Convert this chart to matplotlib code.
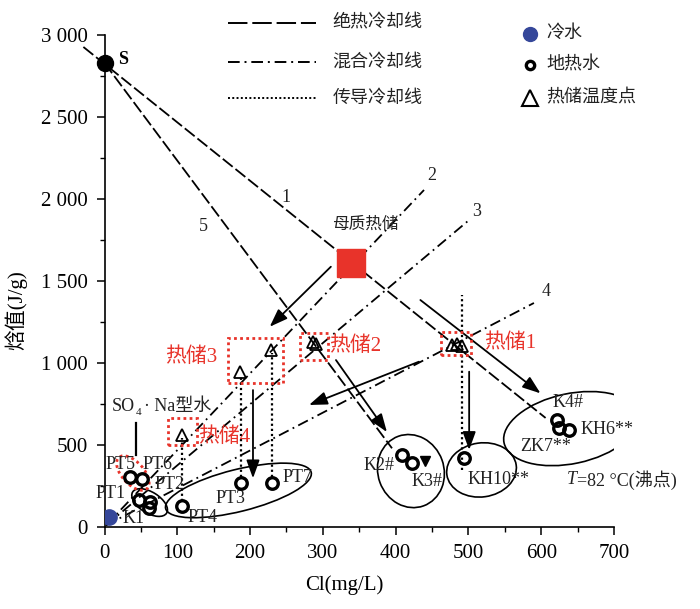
import matplotlib
matplotlib.use('Agg')
import matplotlib.pyplot as plt
from matplotlib.patches import Ellipse, Rectangle
from matplotlib.transforms import ScaledTranslation

FONT = ['Liberation Serif', 'Noto Sans CJK SC']
plt.rcParams['font.family'] = FONT

# ---------------- data ----------------
x_ticks = [0, 100, 200, 300, 400, 500, 600, 700]
y_ticks = [0, 500, 1000, 1500, 2000, 2500, 3000]
y_tick_labels = ['0', '500', '1 000', '1 500', '2 000', '2 500', '3 000']

steam_x, steam_y = [0], [2830]
cold_x, cold_y = [6], [60]
mother_x, mother_y = [338], [1610]

geo_x = [35, 51, 47, 62, 61, 107, 187, 230, 494, 409, 423, 622, 624, 638]
geo_y = [305, 292, 165, 152, 115, 128, 266, 266, 419, 439, 388, 652, 602, 591]

res_x = [106, 186, 229, 286, 291, 477, 484, 491]
res_y = [561, 945, 1079, 1128, 1115, 1108, 1116, 1104]

mark_x, mark_y = [441], [402]

# adiabatic cooling lines (1, 5)
adiab_lines = {'1': ([-29, 606], [2927, 665]), '5': ([0, 395], [2829, 480])}
# mixing cooling lines (2, 3, 4)
mix_lines = {'2': ([2, 439], [10, 2055]), '3': ([2, 501], [10, 1872]), '4': ([2, 590], [10, 1366])}
line_label_pos = {'1': (250, 2012), '2': (449, 2146), '3': (511, 1921), '4': (607, 1433), '5': (136, 1830)}
# conduction cooling (vertical dotted)
cond_x = [106, 187, 230, 491]
cond_top = [540, 917, 1061, 1415]
cond_bot = [160, 306, 306, 348]

# solid arrows (x0, y0, x1, y1)
arrows = [(311, 1587, 227, 1221), (204, 835, 204, 297), (432, 1008, 281, 744),
          (318, 1018, 388, 579), (501, 947, 501, 470), (434, 1384, 599, 815)]

# reservoir boxes (x0, y0, x1, y1)
res_boxes = [(87, 498, 127, 665), (170, 880, 245, 1150), (268, 1018, 307, 1181), (462, 1049, 503, 1191)]
res_labels = [('热储1', 521, 1122), ('热储2', 309, 1104), ('热储3', 83, 1036), ('热储4', 129, 549)]

point_labels = [('PT5', 1, 384, 'left'), ('PT6', 73, 384, 'center'), ('PT1', -13, 207, 'left'),
                ('PT2', 90, 262, 'center'), ('PT4', 134, 55, 'center'), ('PT3', 173, 171, 'center'),
                ('PT7', 265, 299, 'center'), ('K1', 40, 49, 'center'), ('K2#', 377, 378, 'center'),
                ('K3#', 443, 280, 'center'), ('KH10**', 542, 287, 'center'), ('K4#', 637, 762, 'center'),
                ('KH6**', 691, 592, 'center'), ('ZK7**', 606, 488, 'center')]

# ellipses: center x, center y, width px, height px, angle
ellipses = [(62, 149, 40, 21, -32), (184, 223, 150, 42, 14), (421, 341, 66, 74, 20),
            (518, 348, 70, 54, 8), (641, 600, 137, 70, 12)]
red_ellipse = (39, 329, 42, 22, -48)

# ---------------- figure ----------------
fig = plt.figure(figsize=(7.0, 6.09), dpi=100)
ax = fig.add_axes([104.5 / 700, 82 / 609, (614 - 104.5) / 700, (527 - 35) / 609])
ax.set_xlim(0, 700)
ax.set_ylim(0, 3000)
for s in ['top', 'right']:
    ax.spines[s].set_visible(False)
for s in ['left', 'bottom']:
    ax.spines[s].set_linewidth(1.2)
ax.set_xticks(x_ticks)
ax.set_xticklabels([str(v) for v in x_ticks])
ax.set_yticks(y_ticks)
ax.set_yticklabels(y_tick_labels)
ax.set_xticks(range(50, 700, 100), minor=True)
ax.set_yticks(range(250, 3000, 500), minor=True)
ax.tick_params(which='major', direction='out', length=6, width=1.1, labelsize=15, pad=6)
ax.tick_params(which='minor', direction='out', length=3.5, width=1.0)
for lab in ax.get_xticklabels() + ax.get_yticklabels():
    lab.set_family(FONT)

fig.text(344 / 700, 1 - 585 / 609, 'Cl(mg/L)', ha='center', va='center', fontsize=15, family=FONT)
fig.text(16 / 700, 1 - 310 / 609, '焓值(J/g)', ha='center', va='center', rotation=90, fontsize=15, family=FONT)

ADIAB = (7, 2)
MIXD = (6, 2.5, 1, 2.5)
DOT = (1, 1.3)

for k, (xs, ys) in adiab_lines.items():
    ax.plot(xs, ys, color='k', lw=1.3, dashes=ADIAB, clip_on=False, zorder=2)
for k, (xs, ys) in mix_lines.items():
    ax.plot(xs, ys, color='k', lw=1.3, dashes=MIXD, zorder=2)
for k, (lx, ly) in line_label_pos.items():
    ax.text(lx, ly, k, fontsize=13, ha='center', va='center', color='#222')
for x, yt, yb in zip(cond_x, cond_top, cond_bot):
    ax.plot([x, x], [yb, yt], color='k', lw=1.6, dashes=DOT, zorder=2)

for x0, y0, x1, y1 in arrows:
    ax.annotate('', xy=(x1, y1), xytext=(x0, y0),
                arrowprops=dict(arrowstyle='-|>,head_length=0.55,head_width=0.2', color='k',
                                lw=1.3, mutation_scale=20, shrinkA=0, shrinkB=0), zorder=3)

# SO4 marker line
ax.plot([43, 43], [439, 634], color='k', lw=1.6)

# ellipses positioned at data points, sized in pixels
def pix_ellipse(cx, cy, w, h, ang, **kw):
    tr = fig.dpi_scale_trans + ScaledTranslation(cx, cy, ax.transData)
    e = Ellipse((0, 0), w / 100, h / 100, angle=ang, transform=tr, fill=False, **kw)
    ax.add_patch(e)

for cx, cy, w, h, a in ellipses:
    pix_ellipse(cx, cy, w, h, a, edgecolor='k', lw=1.2, zorder=3)
pix_ellipse(*red_ellipse, edgecolor='#e8332a', lw=2.0, linestyle=(0, (1, 1.2)), zorder=3)

for x0, y0, x1, y1 in res_boxes:
    ax.add_patch(Rectangle((x0, y0), x1 - x0, y1 - y0, fill=False, edgecolor='#e8332a',
                           lw=2.0, linestyle=(0, (1, 1.2)), zorder=3))
for t, x, y in res_labels:
    ax.text(x, y, t, color='#e8332a', fontsize=15, ha='left', va='center', zorder=5)

# markers
ax.plot(geo_x, geo_y, 'o', ms=8.3, mfc='none', mec='k', mew=2.4, zorder=4)
ax.plot(res_x, res_y, '^', ms=8, mfc='none', mec='k', mew=1.3, zorder=4)
ax.plot(mark_x, mark_y, 'v', ms=7, color='k', zorder=4)
ax.plot(steam_x, steam_y, 'o', ms=11.5, color='k', clip_on=False, zorder=5)
ax.plot(cold_x, cold_y, 'o', ms=11, color='#35479a', zorder=5)
ax.plot(mother_x, mother_y, 's', ms=19.5, color='#e8332a', zorder=5)

ax.text(18, 2848, 'S', fontsize=13, fontweight='bold', ha='left', va='center')
ax.text(358, 1841, '母质热储', fontsize=12, ha='center', va='center', color='#222')

for t, x, y, ha in point_labels:
    ax.text(x, y, t, fontsize=13, ha=ha, va='center', color='#222', zorder=3)

# T = 82 C (boiling point)
ax.annotate('T', (635, 287), fontsize=13, ha='left', va='center', color='#222', style='italic')
ax.annotate('=82 °C(沸点)', (635, 287), xytext=(7.5, 0), textcoords='offset points', fontsize=13,
            ha='left', va='center', color='#222')

# SO4 . Na type text
ax.annotate('SO', (10, 732), fontsize=13, ha='left', va='center', color='#222')
ax.annotate('4', (10, 732), xytext=(17, -4), textcoords='offset points', fontsize=8,
            ha='left', va='center', color='#222')
ax.annotate('· Na型水', (10, 732), xytext=(23, 0), textcoords='offset points', fontsize=13,
            ha='left', va='center', color='#222')

# legend (drawn manually)
leg_y = [3073, 2835, 2616]
leg_names = ['绝热冷却线', '混合冷却线', '传导冷却线']
leg_styles = [dict(dashes=(10, 2.5)), dict(dashes=MIXD), dict(dashes=(1, 1.2))]
for y, n, st in zip(leg_y, leg_names, leg_styles):
    ax.plot([169, 291], [y, y], color='k', lw=1.4, clip_on=False, **st)
    ax.text(313, y, n, fontsize=13, ha='left', va='center', color='#222')

ax.plot([584], [3009], 'o', ms=10, color='#35479a', clip_on=False)
ax.plot([584], [2817], 'o', ms=6, mfc='none', mec='k', mew=2.4, clip_on=False)
ax.plot([584], [2616], '^', ms=11, mfc='none', mec='k', mew=1.5, clip_on=False)
for y, n in zip([3009, 2817, 2616], ['冷水', '地热水', '热储温度点']):
    ax.text(607, y, n, fontsize=13, ha='left', va='center', color='#222')

fig.savefig('out.png', dpi=100)
